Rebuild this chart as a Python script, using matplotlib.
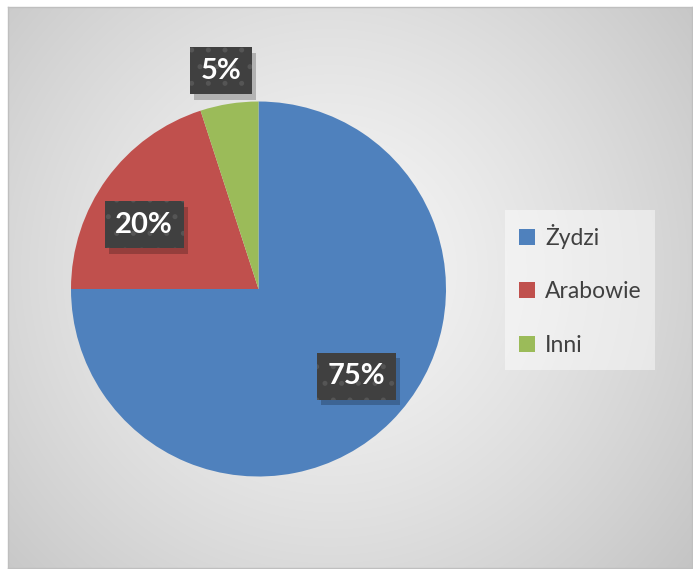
import numpy as np
import matplotlib
matplotlib.use("Agg")
from matplotlib import pyplot as plt
from matplotlib import patheffects as pe

# data
labels = ["Żydzi", "Arabowie", "Inni"]
shares = [75, 20, 5]
colors = ["#4F81BD", "#C0504D", "#9BBB59"]
label_dist = [0.70, 0.70, 1.18]
label_shift = [3.3, 6.6, 0.8]   # degrees, best-fit nudge as in Excel

W, H = 693, 569
fig = plt.figure(figsize=(W / 100, H / 100), dpi=100)
fig.patch.set_facecolor("white")

# chart area with radial gradient
x0, y0, x1, y1 = 8, 7, 692, 568
bg = fig.add_axes([x0 / W, 1 - y1 / H, (x1 - x0) / W, (y1 - y0) / H])
gx, gy = np.meshgrid(np.arange(x0, x1), np.arange(y0, y1))
cx, cy = 330, 270
d = np.sqrt((gx - cx) ** 2 + (gy - cy) ** 2)
d = d / d.max()
c0, c1 = 0.965, 0.77
shade = c0 + (c1 - c0) * d ** 1.3
img = np.dstack([shade, shade, shade])
bg.imshow(img, aspect="auto", extent=[0, 1, 0, 1], interpolation="bilinear")
bg.set_xlim(0, 1)
bg.set_ylim(0, 1)
bg.set_xticks([])
bg.set_yticks([])
for s in bg.spines.values():
    s.set_color("#bfbfbf")
    s.set_linewidth(1)

# pie axes, centre (258.5, 289), radius 187.5 px
pcx, pcy, r = 258.5, 289, 187.5
ax = fig.add_axes([(pcx - r) / W, 1 - (pcy + r) / H, 2 * r / W, 2 * r / H])
wedges, _ = ax.pie(shares, colors=colors, startangle=90, counterclock=False,
                   radius=1, wedgeprops=dict(linewidth=0))
ax.set_xlim(-1, 1)
ax.set_ylim(-1, 1)
ax.axis("off")

plt.rcParams["hatch.linewidth"] = 1.2
for w, val, rd, sft in zip(wedges, shares, label_dist, label_shift):
    ang = np.deg2rad((w.theta1 + w.theta2) / 2 + sft)
    tx, ty = rd * np.cos(ang), rd * np.sin(ang)
    t = ax.text(tx, ty, f"{val}%", ha="center", va="center", fontsize=21,
                fontweight="bold", family="Lato", color="white",
                bbox=dict(boxstyle="square,pad=0.36", fc="#404040", ec="#555555",
                          lw=0, hatch="."))
    # flat drop shadow (no hatch in the shadow)
    t.get_bbox_patch().set_path_effects(
        [pe.SimplePatchShadow(offset=(3, -4), shadow_rgbFace="black", alpha=0.22, hatch=None),
         pe.Normal()])

leg = fig.legend(wedges, labels, loc="upper left",
                 bbox_to_anchor=(505 / W, 1 - 210 / H), borderaxespad=0,
                 prop=dict(family="Lato", size=16.5), labelcolor="#404040",
                 frameon=True, fancybox=False, facecolor="white", edgecolor="none",
                 framealpha=0.45, handlelength=0.7, handleheight=0.7,
                 handletextpad=0.45, labelspacing=1.42, borderpad=0.6)

fig.savefig("out.png", dpi=100)
